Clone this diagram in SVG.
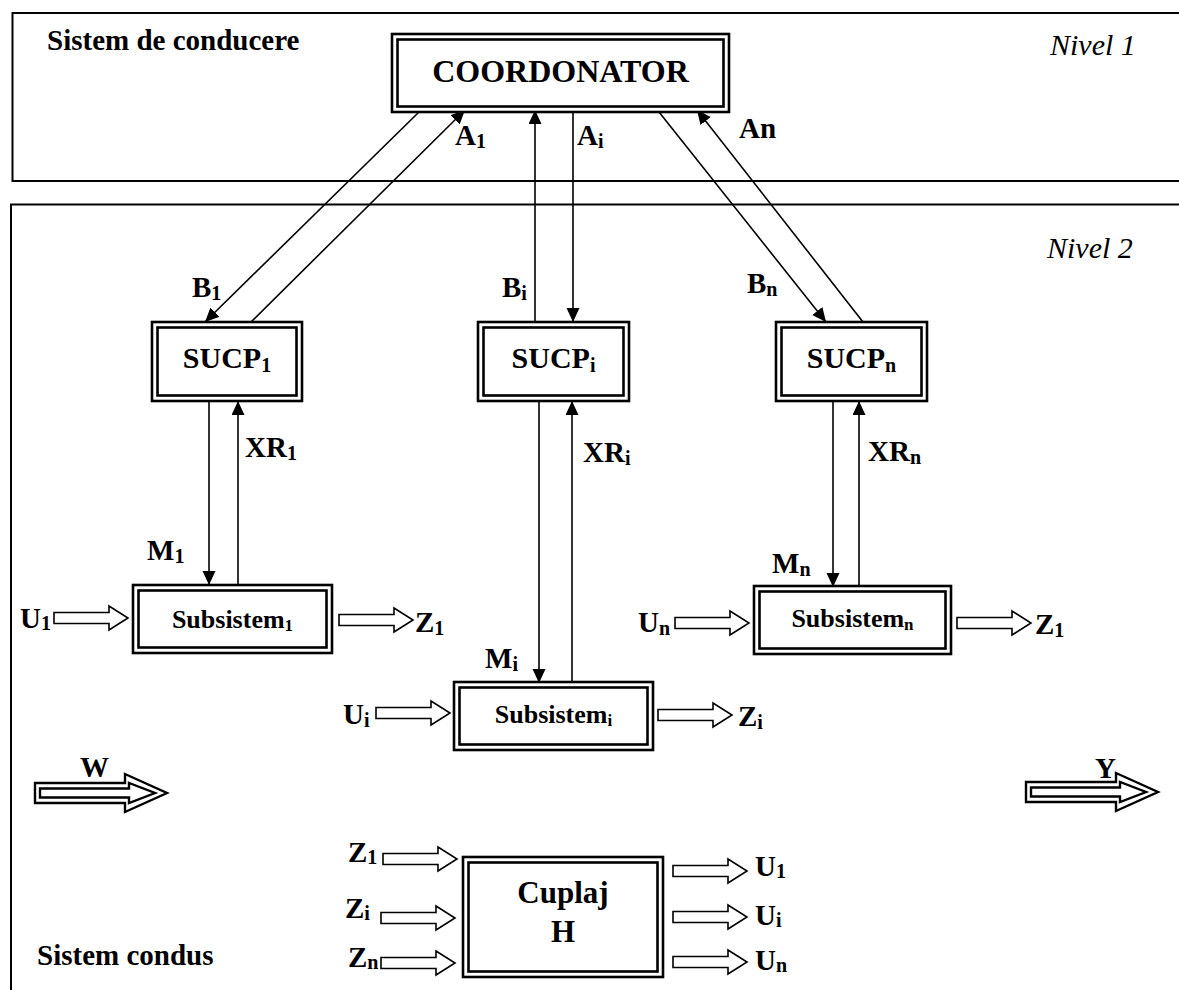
<svg xmlns="http://www.w3.org/2000/svg" xmlns:xlink="http://www.w3.org/1999/xlink" width="1179" height="990" viewBox="0 0 1179 990">
<style>
text{font-family:"Liberation Serif","Times New Roman",serif;fill:#000}
.b{font-weight:bold;font-size:29px}
.t{font-weight:bold;font-size:30px}
.s{font-weight:bold;font-size:26px}
.it{font-style:italic;font-size:30px}
.sub{font-size:20px}
.frame{fill:none;stroke:#000;stroke-width:2}
.box{fill:#fff;stroke:#000;stroke-width:2.6}
.con line{stroke:#000;stroke-width:1.6;marker-end:url(#ah)}
.ha{fill:#fff;stroke:#000;stroke-width:1.6}
.da{fill:#fff;stroke:#000;stroke-width:2.4}
</style>
<defs>
<marker id="ah" markerUnits="userSpaceOnUse" markerWidth="16" markerHeight="14" refX="14" refY="6.5" orient="auto">
<path d="M0,0 L14,6.5 L0,13 Z" fill="#000"/>
</marker>
<path id="hollow" class="ha" d="M-74,-5.5 H-19 V-12 L0,0 L-19,12 V5.5 H-74 Z"/>
<g id="dbl">
<path class="da" d="M-132,-10 H-42 V-19 L0,0 L-42,19 V10 H-132 Z"/>
<path class="da" d="M-127,-4.5 H-38 V-10 L-12,0 L-38,10 V4.5 H-127 Z"/>
</g>
</defs>
<rect width="1179" height="990" fill="#fff"/>

<g id="frames">
<rect class="frame" x="12.5" y="13" width="1200" height="168"/>
<rect class="frame" x="11" y="204.5" width="1200" height="820"/>
<text class="b" x="47" y="50">Sistem de conducere</text>
<text class="it" x="1050" y="55">Nivel 1</text>
<text class="it" x="1047" y="258">Nivel 2</text>
<text class="b" x="37" y="965">Sistem condus</text>
</g>

<g id="connectors" class="con">
<line x1="419" y1="112" x2="205" y2="322"/>
<line x1="251" y1="322" x2="465" y2="110"/>
<line x1="535" y1="322" x2="535" y2="110"/>
<line x1="573" y1="112" x2="573" y2="322"/>
<line x1="659" y1="112" x2="826" y2="322"/>
<line x1="863" y1="322" x2="697" y2="110"/>
<line x1="209" y1="401" x2="209" y2="585"/>
<line x1="238" y1="585" x2="238" y2="401"/>
<line x1="539" y1="401" x2="539" y2="683"/>
<line x1="572" y1="683" x2="572" y2="401"/>
<line x1="833" y1="401" x2="833" y2="587"/>
<line x1="859" y1="587" x2="859" y2="401"/>
</g>

<g id="connector-labels">
<text class="b" x="455" y="145">A<tspan class="sub" dy="3">1</tspan></text>
<text class="b" x="577" y="145">A<tspan class="sub" dy="3">i</tspan></text>
<text class="b" x="739" y="138">An</text>
<text class="b" x="192" y="297">B<tspan class="sub" dy="3">1</tspan></text>
<text class="b" x="502" y="297">B<tspan class="sub" dy="3">i</tspan></text>
<text class="b" x="747" y="293">B<tspan class="sub" dy="3">n</tspan></text>
<text class="b" x="245" y="457">XR<tspan class="sub" dy="3">1</tspan></text>
<text class="b" x="583" y="462">XR<tspan class="sub" dy="3">i</tspan></text>
<text class="b" x="868" y="461">XR<tspan class="sub" dy="3">n</tspan></text>
<text class="b" x="147" y="560">M<tspan class="sub" dy="3">1</tspan></text>
<text class="b" x="485" y="668">M<tspan class="sub" dy="3">i</tspan></text>
<text class="b" x="772" y="573">M<tspan class="sub" dy="3">n</tspan></text>
</g>

<g id="coordonator">
<rect class="box" x="392" y="34" width="337" height="78"/>
<rect class="box" x="397.5" y="39.5" width="326" height="67"/>
<text x="560.5" y="82" text-anchor="middle" style="font-weight:bold;font-size:32px">COORDONATOR</text>
</g>

<g id="sucp1">
<rect class="box" x="152" y="322" width="150" height="79"/>
<rect class="box" x="157.5" y="327.5" width="139" height="68"/>
<text class="t" x="227" y="368" text-anchor="middle">SUCP<tspan class="sub" dy="4">1</tspan></text>
</g>
<g id="sucpi">
<rect class="box" x="478" y="322" width="151" height="79"/>
<rect class="box" x="483.5" y="327.5" width="140" height="68"/>
<text class="t" x="553.5" y="368" text-anchor="middle">SUCP<tspan class="sub" dy="4">i</tspan></text>
</g>
<g id="sucpn">
<rect class="box" x="776" y="322" width="151" height="79"/>
<rect class="box" x="781.5" y="327.5" width="140" height="68"/>
<text class="t" x="851.5" y="368" text-anchor="middle">SUCP<tspan class="sub" dy="4">n</tspan></text>
</g>

<g id="subsistem1">
<rect class="box" x="133" y="585" width="199" height="68"/>
<rect class="box" x="138.5" y="590.5" width="188" height="57"/>
<text class="s" x="232.5" y="628" text-anchor="middle">Subsistem<tspan class="sub" style="font-size:17px" dy="3">1</tspan></text>
<use xlink:href="#hollow" x="128" y="618"/>
<text class="b" x="20" y="628">U<tspan class="sub" dy="2">1</tspan></text>
<use xlink:href="#hollow" x="413" y="620"/>
<text class="b" x="415" y="632">Z<tspan class="sub" dy="3">1</tspan></text>
</g>

<g id="subsistemi">
<rect class="box" x="454" y="682" width="199" height="68"/>
<rect class="box" x="459.5" y="687.5" width="188" height="57"/>
<text class="s" x="553.5" y="723" text-anchor="middle">Subsistem<tspan class="sub" style="font-size:17px" dy="3">i</tspan></text>
<use xlink:href="#hollow" x="450" y="713"/>
<text class="b" x="343" y="724">U<tspan class="sub" dy="3">i</tspan></text>
<use xlink:href="#hollow" x="732" y="715"/>
<text class="b" x="738" y="726">Z<tspan class="sub" dy="3">i</tspan></text>
</g>

<g id="subsistemn">
<rect class="box" x="754" y="586" width="197" height="68"/>
<rect class="box" x="759.5" y="591.5" width="186" height="57"/>
<text class="s" x="852.5" y="627" text-anchor="middle">Subsistem<tspan class="sub" style="font-size:17px" dy="3">n</tspan></text>
<use xlink:href="#hollow" x="749" y="623"/>
<text class="b" x="638" y="632">U<tspan class="sub" dy="3">n</tspan></text>
<use xlink:href="#hollow" x="1031" y="623"/>
<text class="b" x="1035" y="634">Z<tspan class="sub" dy="3">1</tspan></text>
</g>

<g id="w-y">
<use xlink:href="#dbl" x="167" y="793"/>
<text class="b" x="80" y="777">W</text>
<use xlink:href="#dbl" x="1158" y="792"/>
<text class="b" x="1095" y="778">Y</text>
</g>

<g id="cuplaj">
<rect class="box" x="463" y="857" width="200" height="120"/>
<rect class="box" x="468.5" y="862.5" width="189" height="109"/>
<text x="563" y="903" text-anchor="middle" style="font-weight:bold;font-size:31px">Cuplaj</text>
<text x="563" y="942" text-anchor="middle" style="font-weight:bold;font-size:31px">H</text>
<use xlink:href="#hollow" x="457" y="859"/>
<use xlink:href="#hollow" x="455" y="918"/>
<use xlink:href="#hollow" x="455" y="963"/>
<text class="b" x="348" y="862">Z<tspan class="sub" dy="2">1</tspan></text>
<text class="b" x="345" y="918">Z<tspan class="sub" dy="2">i</tspan></text>
<text class="b" x="348" y="967">Z<tspan class="sub" dy="2">n</tspan></text>
<use xlink:href="#hollow" x="747" y="871"/>
<use xlink:href="#hollow" x="747" y="917"/>
<use xlink:href="#hollow" x="747" y="962"/>
<text class="b" x="755" y="876">U<tspan class="sub" dy="2">1</tspan></text>
<text class="b" x="755" y="925">U<tspan class="sub" dy="2">i</tspan></text>
<text class="b" x="755" y="970">U<tspan class="sub" dy="2">n</tspan></text>
</g>
</svg>
